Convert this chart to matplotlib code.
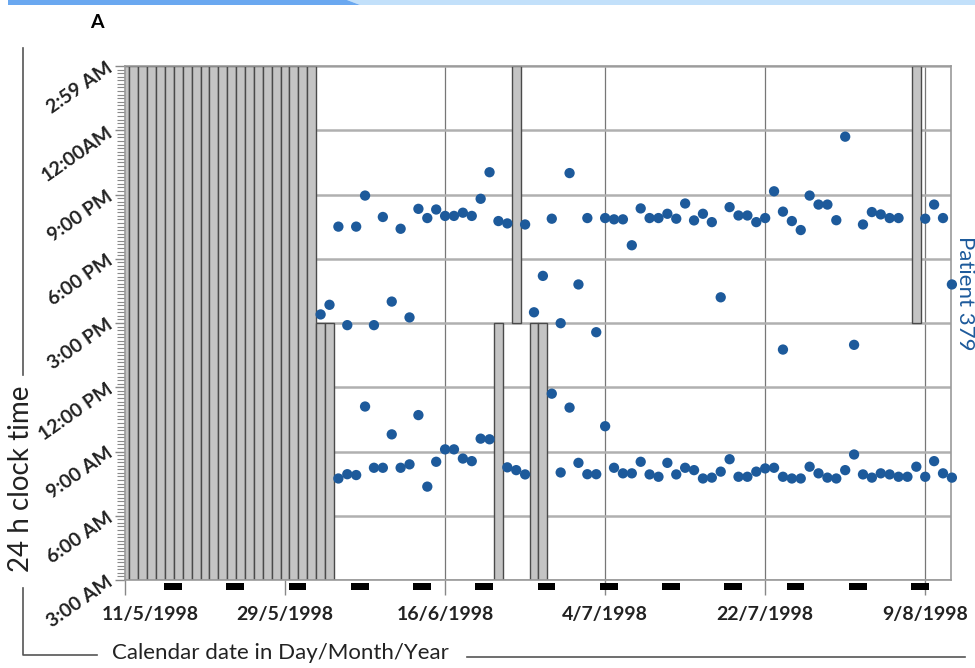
import matplotlib.pyplot as plt
import matplotlib.transforms as mtransforms
from matplotlib.patches import Polygon
from matplotlib.lines import Line2D
from matplotlib.ticker import MultipleLocator

plt.rcParams['font.family'] = ['Lato', 'DejaVu Sans']

# Dias contados desde 11/5/1998 (dia 0); horas contadas desde las 3:00 AM
fecha_ticks = [0, 18, 36, 54, 72, 90]
fecha_labels = ['11/5/1998', '29/5/1998', '16/6/1998', '4/7/1998', '22/7/1998', '9/8/1998']
hora_ticks = [0, 3, 6, 9, 12, 15, 18, 21, 24]
hora_labels = ['3:00 AM', '6:00 AM', '9:00 AM', '12:00 PM', '3:00 PM',
               '6:00 PM', '9:00 PM', '12:00AM', '2:59 AM']

# Barras grises (dias sin registro)
dias_sin_dato = list(range(0, 22))          # dia completo
dias_sin_manana = [22, 23, 42, 46, 47]      # 3 AM - 3 PM
dias_sin_noche = [44, 89]                   # 3 PM - 3 AM

# Fines de semana (sabados)
sabados = [5, 12, 19, 26, 33, 40, 47, 54, 61, 68, 75, 82, 89]

# Tomas de la noche
noche_dia = [24, 26, 27, 29, 31, 33, 34, 35, 36, 37, 38, 39, 40, 41, 42, 43, 45, 48,
             50, 52, 54, 55, 56, 57, 58, 59, 60, 61, 62, 63, 64, 65, 66, 68, 69, 70,
             71, 72, 73, 74, 75, 76, 77, 78, 79, 80, 81, 83, 84, 85, 86, 87, 90, 91, 92]
noche_hora = [16.5, 16.5, 17.95, 16.95, 16.4, 17.33, 16.9, 17.3, 17.0, 17.0, 17.15,
              17.0, 17.8, 19.04, 16.76, 16.65, 16.6, 16.87, 19.0, 16.9, 16.9, 16.84,
              16.84, 15.63, 17.35, 16.9, 16.9, 17.1, 16.87, 17.58, 16.79, 17.1, 16.71,
              17.41, 17.02, 17.02, 16.71, 16.9, 18.15, 17.2, 16.76, 16.34, 17.95, 17.53,
              17.53, 16.8, 20.7, 16.6, 17.18, 17.07, 16.9, 16.9, 16.87, 17.53, 16.9]

# Tomas de mediodia / tarde
tarde_dia = [22, 23, 25, 28, 30, 32, 46, 47, 49, 51, 53, 67, 74, 82, 93]
tarde_hora = [12.4, 12.85, 11.9, 11.9, 13.0, 12.26, 12.5, 14.2, 11.99, 13.8, 11.57,
              13.2, 10.76, 10.98, 13.8]

# Tomas de la manana
manana_dia = [24, 25, 26, 27, 28, 29, 30, 31, 32, 33, 34, 35, 36, 37, 38, 39, 40, 41,
              43, 44, 45, 48, 49, 50, 51, 52, 53, 54, 55, 56, 57, 58, 59, 60, 61, 62,
              63, 64, 65, 66, 67, 68, 69, 70, 71, 72, 73, 74, 75, 76, 77, 78, 79, 80,
              81, 82, 83, 84, 85, 86, 87, 88, 89, 90, 91, 92, 93]
manana_hora = [4.74, 4.94, 4.9, 8.1, 5.24, 5.24, 6.8, 5.24, 5.4, 7.7, 4.36, 5.52, 6.1,
               6.1, 5.67, 5.55, 6.6, 6.57, 5.26, 5.13, 4.93, 8.7, 5.02, 8.05, 5.47,
               4.94, 4.94, 7.18, 5.24, 4.98, 4.98, 5.52, 4.93, 4.82, 5.47, 4.93, 5.24,
               5.13, 4.74, 4.78, 5.06, 5.64, 4.82, 4.82, 5.06, 5.21, 5.24, 4.82, 4.74,
               4.74, 5.29, 4.98, 4.78, 4.74, 5.13, 5.86, 4.93, 4.78, 4.98, 4.93, 4.82,
               4.82, 5.29, 4.82, 5.55, 4.98, 4.78]

AZUL = '#1d5a9b'
GRIS = '#c4c4c4'
BORDE = '#4a4a4a'

fig = plt.figure(figsize=(9.75, 6.68), dpi=100)
ax = fig.add_axes([125 / 975, 1 - 580 / 668, 826 / 975, 514 / 668])

# Barras de dias sin registro
ax.bar(dias_sin_dato, 24, width=1, bottom=0, color=GRIS, edgecolor=BORDE, linewidth=1, zorder=2)
ax.bar(dias_sin_manana, 12, width=1, bottom=0, color=GRIS, edgecolor=BORDE, linewidth=1, zorder=2)
ax.bar(dias_sin_noche, 12, width=1, bottom=12, color=GRIS, edgecolor=BORDE, linewidth=1, zorder=2)

# Puntos
for dias, horas in [(noche_dia, noche_hora), (tarde_dia, tarde_hora), (manana_dia, manana_hora)]:
    ax.scatter(dias, horas, s=55, color=AZUL, edgecolors='none', zorder=4, clip_on=False)

# Marcas de fin de semana
ax.bar([s - 0.6 for s in sabados], 0.33, width=2, bottom=-0.47, align='edge',
       color='black', clip_on=False, zorder=5)

ax.set_xlim(0, 92.9)
ax.set_ylim(0, 24)
ax.set_xticks(fecha_ticks)
ax.set_xticklabels(fecha_labels, fontsize=14, fontweight='bold', color='#222222')
ax.set_yticks(hora_ticks)
ax.set_yticklabels(hora_labels, fontsize=14, fontweight='bold', color='#222222',
                   rotation=35, ha='right', va='center', rotation_mode='anchor')
ax.yaxis.set_minor_locator(MultipleLocator(1 / 6))
ax.tick_params(axis='x', length=11, width=1, color='#888888', pad=8)
ax.tick_params(axis='y', which='major', length=7, width=1, color='#888888', pad=3)
ax.tick_params(axis='y', which='minor', length=6, width=0.8, color='#8a8a8a')

# desplazar la primera etiqueta de fecha
offset = mtransforms.ScaledTranslation(25 / 100, 0, fig.dpi_scale_trans)
lab0 = ax.get_xticklabels()[0]
lab0.set_transform(lab0.get_transform() + offset)

ax.set_axisbelow(True)
ax.yaxis.grid(True, color='#b0b0b0', linewidth=1.8)
ax.xaxis.grid(True, color='#777777', linewidth=0.9)
for sp in ax.spines.values():
    sp.set_color('#999999')
    sp.set_linewidth(1.2)

# Textos
fig.text(97 / 975, 1 - 22 / 668, 'A', fontsize=14, fontweight='bold', ha='center', va='center')
fig.text(21 / 975, 1 - 479 / 668, '24 h clock time', fontsize=20, rotation=90,
         ha='center', va='center', color='#222222')
fig.text(112 / 975, 1 - 653 / 668, 'Calendar date in Day/Month/Year', fontsize=16,
         ha='left', va='center', color='#222222')
fig.text(965 / 975, 1 - 293 / 668, 'Patient 379', fontsize=16, rotation=-90,
         ha='center', va='center', color=AZUL)

# Lineas del marco exterior (coordenadas en pixeles de figura)
def linea(xs, ys):
    fig.add_artist(Line2D([x / 975 for x in xs], [1 - y / 668 for y in ys],
                          color='#555555', linewidth=1.2))

linea([22.7, 22.7], [48, 375])
linea([22.7, 22.7, 97], [588, 655, 655])
linea([467, 965], [657, 657])

# Banda azul superior
fig.add_artist(Polygon([(347 / 975, 1), (975 / 975, 1), (975 / 975, 1 - 5 / 668), (360 / 975, 1 - 5 / 668)],
                       closed=True, transform=fig.transFigure, color='#c2e0fa', linewidth=0))
fig.add_artist(Polygon([(8 / 975, 1), (347 / 975, 1), (360 / 975, 1 - 5 / 668), (8 / 975, 1 - 5 / 668)],
                       closed=True, transform=fig.transFigure, color='#6aa8f0', linewidth=0))

plt.savefig('out.png', dpi=100)
